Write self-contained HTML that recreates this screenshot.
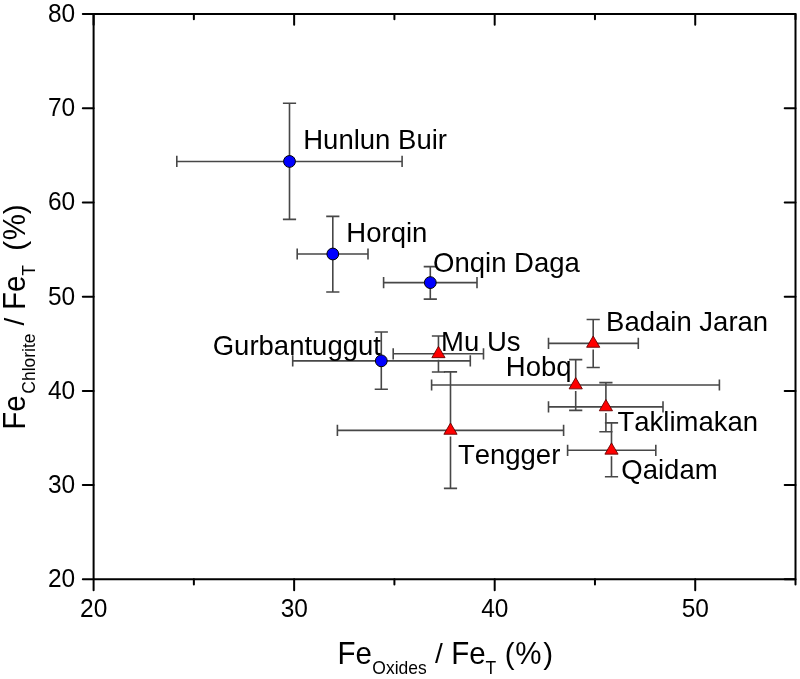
<!DOCTYPE html>
<html><head><meta charset="utf-8"><style>
html,body{margin:0;padding:0;background:#fff;}
svg{display:block;will-change:transform;}
text{font-family:"Liberation Sans",sans-serif;fill:#000;font-kerning:none;font-feature-settings:"kern" 0;}
.tk{font-size:24.5px;}
.lb{font-size:27.5px;}
.ax{font-size:29.5px;}
.sb{font-size:17.5px;}
.sl{font-size:28px;}
</style></head><body>
<svg width="800" height="679" viewBox="0 0 800 679">
<rect width="800" height="679" fill="#fff"/>
<rect x="93.6" y="13.95" width="701.90" height="565.40" fill="none" stroke="#000" stroke-width="2" stroke-linejoin="round"/>
<text transform="translate(93.75,617.00) scale(1,1.045)" class="tk" text-anchor="middle">20</text>
<text transform="translate(294.29,617.00) scale(1,1.045)" class="tk" text-anchor="middle">30</text>
<text transform="translate(494.84,617.00) scale(1,1.045)" class="tk" text-anchor="middle">40</text>
<text transform="translate(695.38,617.00) scale(1,1.045)" class="tk" text-anchor="middle">50</text>
<text transform="translate(75.20,587.35) scale(1,1.045)" class="tk" text-anchor="end">20</text>
<text transform="translate(75.20,493.12) scale(1,1.045)" class="tk" text-anchor="end">30</text>
<text transform="translate(75.20,398.88) scale(1,1.045)" class="tk" text-anchor="end">40</text>
<text transform="translate(75.20,304.65) scale(1,1.045)" class="tk" text-anchor="end">50</text>
<text transform="translate(75.20,210.42) scale(1,1.045)" class="tk" text-anchor="end">60</text>
<text transform="translate(75.20,116.18) scale(1,1.045)" class="tk" text-anchor="end">70</text>
<text transform="translate(75.20,21.95) scale(1,1.045)" class="tk" text-anchor="end">80</text>
<path d="M93.60,579.35V590.15M93.60,13.95V24.75M294.14,579.35V590.15M294.14,13.95V24.75M494.69,579.35V590.15M494.69,13.95V24.75M695.23,579.35V590.15M695.23,13.95V24.75M193.87,579.35V584.55M193.87,13.95V19.15M394.41,579.35V584.55M394.41,13.95V19.15M594.96,579.35V584.55M594.96,13.95V19.15M795.50,579.35V584.55M795.50,13.95V19.15M82.80,579.35H93.6M784.70,579.35H795.5M82.80,485.12H93.6M784.70,485.12H795.5M82.80,390.88H93.6M784.70,390.88H795.5M82.80,296.65H93.6M784.70,296.65H795.5M82.80,202.42H93.6M784.70,202.42H795.5M82.80,108.18H93.6M784.70,108.18H795.5M82.80,13.95H93.6M784.70,13.95H795.5" stroke="#000" stroke-width="2" stroke-linecap="round" fill="none"/>
<path d="M176.8,161.45H402.1M176.8,155.85V167.05M402.1,155.85V167.05M289.5,103.3V161.45M289.5,161.45V219.4M282.9,103.3H296.1M282.9,219.4H296.1" stroke="#474747" stroke-width="1.6" fill="none"/>
<path d="M297.2,254H368M297.2,248.4V259.6M368,248.4V259.6M332.8,216.4V254M332.8,254V292M326.2,216.4H339.4M326.2,292H339.4" stroke="#474747" stroke-width="1.6" fill="none"/>
<path d="M383.6,282.6H477M383.6,277V288.2M477,277V288.2M430.3,266.6V282.6M430.3,282.6V299.1M423.7,266.6H436.9M423.7,299.1H436.9" stroke="#474747" stroke-width="1.6" fill="none"/>
<path d="M292.7,360.85H470.3M292.7,355.25V366.45M470.3,355.25V366.45M381.3,332V360.85M381.3,360.85V389.3M374.7,332H387.9M374.7,389.3H387.9" stroke="#474747" stroke-width="1.6" fill="none"/>
<path d="M393.2,353.8H483.5M393.2,348.2V359.4M483.5,348.2V359.4M438.45,336V353.8M438.45,359.8V372M431.85,336H445.05M431.85,372H445.05" stroke="#474747" stroke-width="1.6" fill="none"/>
<path d="M337.4,430.4H563.6M337.4,424.8V436M563.6,424.8V436M450.5,371.9V430.4M450.5,436.4V488.4M443.9,371.9H457.1M443.9,488.4H457.1" stroke="#474747" stroke-width="1.6" fill="none"/>
<path d="M548.5,343.4H638.3M548.5,337.8V349M638.3,337.8V349M593.2,319.5V343.4M593.2,349.4V367.5M586.6,319.5H599.8M586.6,367.5H599.8" stroke="#474747" stroke-width="1.6" fill="none"/>
<path d="M431.6,385H719.4M431.6,379.4V390.6M719.4,379.4V390.6M575.7,359.6V385M575.7,391V410.4M569.1,359.6H582.3M569.1,410.4H582.3" stroke="#474747" stroke-width="1.6" fill="none"/>
<path d="M548.5,406.9H663M548.5,401.3V412.5M663,401.3V412.5M605.9,382.6V406.9M605.9,412.9V431.7M599.3,382.6H612.5M599.3,431.7H612.5" stroke="#474747" stroke-width="1.6" fill="none"/>
<path d="M567.6,450.3H655.8M567.6,444.7V455.9M655.8,444.7V455.9M611.5,422.9V450.3M611.5,456.3V476.7M604.9,422.9H618.1M604.9,476.7H618.1" stroke="#474747" stroke-width="1.6" fill="none"/>
<circle cx="289.5" cy="161.45" r="5.9" fill="#0000ff" stroke="#000" stroke-width="1"/>
<circle cx="332.8" cy="254.0" r="5.9" fill="#0000ff" stroke="#000" stroke-width="1"/>
<circle cx="430.3" cy="282.6" r="5.9" fill="#0000ff" stroke="#000" stroke-width="1"/>
<circle cx="381.3" cy="360.85" r="5.9" fill="#0000ff" stroke="#000" stroke-width="1"/>
<path d="M438.45,346.40L445.05,357.65L431.85,357.65Z" fill="#ff0000" stroke="#600" stroke-width="0.9" stroke-linejoin="miter"/>
<path d="M450.5,423.00L457.10,434.25L443.90,434.25Z" fill="#ff0000" stroke="#600" stroke-width="0.9" stroke-linejoin="miter"/>
<path d="M593.2,336.00L599.80,347.25L586.60,347.25Z" fill="#ff0000" stroke="#600" stroke-width="0.9" stroke-linejoin="miter"/>
<path d="M575.7,377.60L582.30,388.85L569.10,388.85Z" fill="#ff0000" stroke="#600" stroke-width="0.9" stroke-linejoin="miter"/>
<path d="M605.9,399.50L612.50,410.75L599.30,410.75Z" fill="#ff0000" stroke="#600" stroke-width="0.9" stroke-linejoin="miter"/>
<path d="M611.5,442.90L618.10,454.15L604.90,454.15Z" fill="#ff0000" stroke="#600" stroke-width="0.9" stroke-linejoin="miter"/>
<text x="303.25" y="149" class="lb">Hunlun Buir</text>
<text x="346.35" y="242" class="lb">Horqin</text>
<text x="433.05" y="272" class="lb">Onqin Daga</text>
<text x="212.72" y="355" class="lb">Gurbantuggut</text>
<text x="441.10" y="351" class="lb">Mu Us</text>
<text x="457.88" y="464" class="lb">Tengger</text>
<text x="606.10" y="331" class="lb">Badain Jaran</text>
<text x="505.85" y="376" class="lb">Hobq</text>
<text x="617.48" y="431" class="lb">Taklimakan</text>
<text x="621.30" y="479" class="lb">Qaidam</text>
<text transform="translate(337.48,663.50) scale(1,1.045)" class="ax">Fe</text>
<text transform="translate(372.32,674.00) scale(1,1.045)" class="sb">Oxides</text>
<text transform="translate(435.00,663.20) scale(1,1.0)" class="sl">/</text>
<text transform="translate(451.18,663.50) scale(1,1.045)" class="ax">Fe</text>
<text transform="translate(485.61,674.00) scale(1,1.045)" class="sb">T</text>
<text transform="translate(504.77,663.50) scale(1,1.0)" class="ax">(</text>
<text transform="translate(515.35,663.50) scale(1,1.05)" class="ax">%</text>
<text transform="translate(543.23,663.50) scale(1,1.0)" class="ax">)</text>
<text transform="translate(24.60,429.72) rotate(-90) scale(1,1.045)" class="ax">Fe</text>
<text transform="translate(35.40,393.69) rotate(-90) scale(1,1.045)" class="sb">Chlorite</text>
<text transform="translate(24.30,325.40) rotate(-90) scale(1,1.0)" class="sl">/</text>
<text transform="translate(24.60,309.92) rotate(-90) scale(1,1.045)" class="ax">Fe</text>
<text transform="translate(35.40,275.79) rotate(-90) scale(1,1.045)" class="sb">T</text>
<text transform="translate(24.60,250.73) rotate(-90) scale(1,1.0)" class="ax">(</text>
<text transform="translate(24.60,240.25) rotate(-90) scale(1,1.05)" class="ax">%</text>
<text transform="translate(24.60,214.17) rotate(-90) scale(1,1.0)" class="ax">)</text>
</svg>
</body></html>
